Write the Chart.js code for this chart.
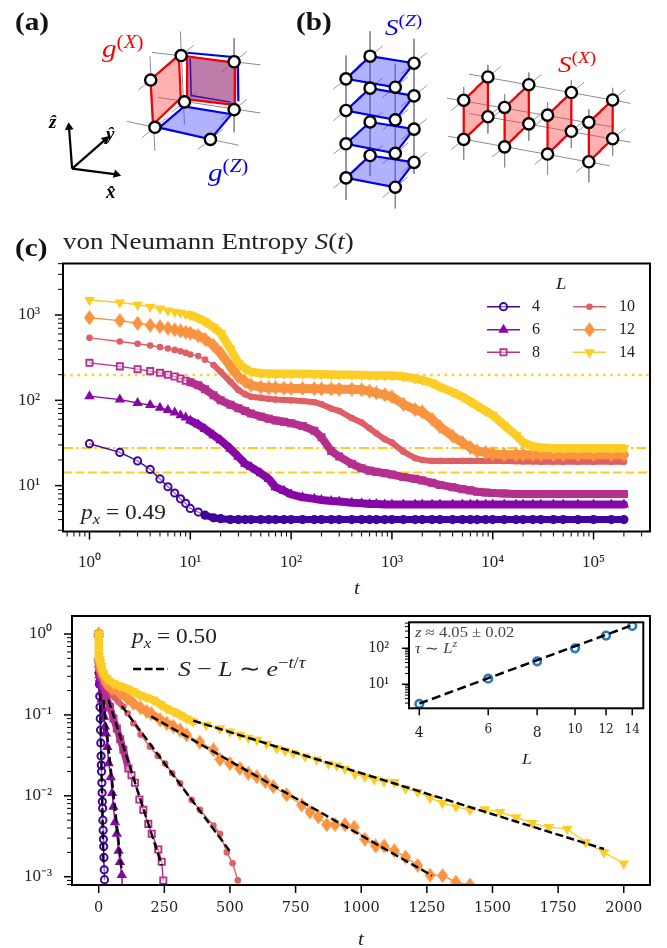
<!DOCTYPE html>
<html>
<head>
<meta charset="utf-8">
<script src="https://cdn.jsdelivr.net/npm/chart.js@4"></script>
<style>
body { margin: 0; background: #fff; width: 667px; height: 948px; position: relative; overflow: hidden; }
canvas { position: absolute; }
.t { position: absolute; font-family: "Liberation Serif", serif; color: #222; white-space: nowrap; line-height: 1; transform-origin: left center; transform: scaleX(1.17); }
.b { font-weight: bold; font-size: 25px; color: #111; }
sup, sub { font-size: 72%; line-height: 0; }
.arrow { font-size: 19px; font-weight: bold; font-style: italic; color: #000; transform: none; }
</style>
</head>
<body>
<canvas id="diagram" width="667" height="235" style="left:0;top:0"></canvas>
<canvas id="entropy" width="667" height="345" style="left:0;top:255px"></canvas>
<canvas id="decay" width="667" height="340" style="left:0;top:606px"></canvas>
<canvas id="inset" width="317" height="160" style="left:350px;top:615px"></canvas>

<span class="t b" style="left:15px;top:9px">(a)</span>
<span class="t b" style="left:296px;top:9px">(b)</span>
<span class="t b" style="left:15px;top:235px">(c)</span>
<span class="t" style="left:102px;top:36px;font-size:25px;color:#f00"><i>g</i><sup>(<i>X</i>)</sup></span>
<span class="t" style="left:208px;top:160px;font-size:25px;color:#00f"><i>g</i><sup>(<i>Z</i>)</sup></span>
<span class="t" style="left:385px;top:16px;font-size:23px;color:#00f"><i>S</i><sup>(<i>Z</i>)</sup></span>
<span class="t" style="left:558px;top:53px;font-size:23px;color:#f00"><i>S</i><sup>(<i>X</i>)</sup></span>
<span class="t arrow" style="left:49px;top:112px">ẑ</span>
<span class="t arrow" style="left:106px;top:124px">ŷ</span>
<span class="t arrow" style="left:106px;top:182px">x̂</span>
<span class="t" style="left:63px;top:230px;font-size:23px">von Neumann Entropy <i>S</i>(<i>t</i>)</span>
<span class="t" style="left:81px;top:502px;font-size:20px"><i>p<sub>x</sub></i> = 0.49</span>
<span class="t" style="left:556px;top:276px;font-size:16px"><i>L</i></span>
<span class="t" style="left:354px;top:579px;font-size:18px"><i>t</i></span>
<span class="t" style="left:132px;top:626px;font-size:20px"><i>p<sub>x</sub></i> = 0.50</span>
<span class="t" style="left:178px;top:658px;font-size:22px"><i>S</i> − <i>L</i> ∼ <i>e</i><sup>−<i>t</i>/<i>τ</i></sup></span>
<span class="t" style="left:415px;top:625px;font-size:14.2px;color:#444"><i>z</i> ≈ 4.05 ± 0.02</span>
<span class="t" style="left:415px;top:641px;font-size:14.2px;color:#444"><i>τ</i> ∼ <i>L<sup>z</sup></i></span>
<span class="t" style="left:522px;top:752px;font-size:15px"><i>L</i></span>
<span class="t" style="left:358px;top:930px;font-size:18px"><i>t</i></span>

<script>
// colours for L = 4 ... 14
const sizes = [4, 6, 8, 10, 12, 14];
const colors = ["#41049d", "#8707a6", "#b52f8c", "#de5f65", "#f89441", "#fccd25"];

// panel (c), S(t) at px = 0.49
const tTop = [1,2,3,4,5,6,7,8,9,10, 12,14,17,20,25,30,35,40,50,60, 70,85,100,130,170,200,250,300,400,500,
  600,700,850,1000,1300,1700,2000,2500,3000,4000, 5000,6000,7000,8500,10000,13000,17000,20000,25000,30000,
  40000,50000,70000,100000,150000,200000];
const top4 = [31,24.5,19.5,15.5,12,9.7,8.2,7,6.2,5.4, 4.9,4.5,4.2,4.1,4,4,4,4,4,4, 4,4,4,4,4,4,4,4,4,4,
  4,4,4,4,4,4,4,4,4,4, 4,4,4,4,4,4,4,4,4,4, 4,4,4,4,4,4];
const top6 = [112,102,93,88,82,77,72,67,63,58, 52,46,39,34,27,21.8,18,16.5,14,12, 9.6,8.7,7.9,7.3,7,6.8,6.6,6.5,6.3,6.2,
  6.1,6.1,6,6,6,6,6,6,6,6, 6,6,6,6,6,6,6,6,6,6, 6,6,6,6,6,6];
const top8 = [275,250,232,220,210,200,190,180,170,163, 150,135,115,100,89,81,75,70,64.6,61, 58,56,54,50,44,37,25.5,22,18,16,
  15,14.5,14,13.5,12.6,12,11.5,10.8,10.2,9.6, 9.1,8.8,8.5,8.3,8.2,8.1,8,8,8,8, 8,8,8,8,8,8];
const top10 = [540,490,460,440,420,405,390,375,360,345, 330,300,260,216,165,132,118,110,107,104, 102,101,100,98,95,90,80,75,62,55,
  47,41,35,32,25,21,20,19.5,19.5,19.5, 19.5,19.5,19.5,19.5,19.5,19.5,19.3,19.2,19.2,19, 19,19,19,19,19,19];
const top12 = [930,860,800,760,730,700,670,650,630,615, 570,520,440,358,250,189,165,151,143,140, 140,139,138,138,137,136,136,135,135,133,
  128,122,116,110,90,78,73,60,49,38, 32,28,25.5,24.5,23.5,23,23,23,23,23, 23,23,23,23,23,23];
const top14 = [1500,1400,1320,1250,1190,1130,1090,1060,1030,1000, 920,840,720,615,400,273,235,216,208,206, 205,205,205,204,203,202,201,200,199,198,
  197,196,195,195,190,180,173,160,144,125, 110,97,86,75,67,51,39,32,29,28, 27.5,27.5,27.5,27.5,27.5,27.5];
const topSeries = [top4, top6, top8, top10, top12, top14];
const topRefX = [0.546, 363000];
const refDotted = [198, 198];
const refDashDot = [27.6, 27.6];
const refDashed = [14.3, 14.3];

// lower panel, S - L at px = 0.50
const t4 = [0,1,2,3,4,5,6,7,8,9,10,11,12,13,14,15,16,17,18,19,20,21,22];
const v4 = [1,.45,.33,.24,.17,.125,.09,.065,.045,.031,.024,.02,.0145,.0109,.0085,.007,.005,.00376,.0029,.00236,.00173,.00122,.00092];
const t6 = [0,1,2,3,4,5,8,11,15,20,24,28,33,38,46,51,56,62,69,76,81,88,91];
const v6 = [1,.42,.36,.31,.28,.25,.19,.155,.12,.095,.072,.059,.04,.0253,.017,.0108,.0073,.0047,.0034,.0021,.00152,.00105,.0006];
const t8 = [0,1,2,5,10,18,30,43,56,69,82,94,113,125,138,155,170,189,202,227,240,246];
const v8 = [1,.44,.38,.33,.29,.235,.16,.126,.09,.068,.05,.037,.0218,.018,.0145,.009,.0067,.0045,.0034,.00217,.00153,.0009];
const t10 = [0,1,3,6,10,18,30,43,60,75,94,110,132,160,195,225,253,280,310,354,386,437,462,488,510,530];
const v10 = [1,.46,.4,.36,.32,.27,.225,.2,.165,.145,.126,.105,.079,.057,.0405,.031,.0251,.019,.0143,.0089,.0067,.0043,.0034,.002,.00147,.0009];
const t12 = [0,1,3,6,10,18,30,50,81,110,132,160,183,200,234,259,284,310,335,385,437,462,500,538,570,602,635,665,716,773,805,837,869,900,938,973,1014,1055,1087,1126,1169,1215,1262,1310,1361,1414];
const v12 = [1,.49,.44,.39,.35,.3,.245,.215,.185,.16,.139,.122,.11,.104,.087,.079,.072,.065,.0565,.046,.037,.0282,.025,.0218,.019,.0172,.015,.013,.0103,.0077,.0063,.0055,.0044,.0044,.0044,.0041,.0029,.0024,.0024,.0021,.00175,.00138,.00105,.00103,.00086,.00079];
const t14 = [0,1,3,6,10,18,30,56,80,107,130,157,180,208,235,259,285,310,335,360,410,462,500,538,570,602,640,678,710,741,786,830,875,907,938,976,1014,1050,1087,1126,1169,1215,1262,1310,1361,1414,1471,1529,1590,1651,1715,1785,1855,1925,2000];
const v14 = [1,.53,.48,.44,.4,.326,.285,.245,.228,.2125,.195,.176,.165,.153,.135,.12,.11,.1,.09,.0828,.075,.068,.062,.0565,.052,.049,.044,.0386,.036,.0335,.0305,.028,.0248,.0237,.0215,.0186,.0172,.016,.015,.0148,.0123,.0112,.0094,.0081,.0073,.0067,.0068,.0063,.0054,.0046,.0041,.0039,.00265,.002,.00145];
const decayT = [t4, t6, t8, t10, t12, t14];
const decayV = [v4, v6, v8, v10, v12, v14];

// exponential fits, one [t, v] pair of ends per L
const fit4 = [[5, .185], [18, .00145]];
const fit6 = [[18, .153], [88, .00115]];
const fit8 = [[37, .153], [240, .00138]];
const fit10 = [[88, .129], [500, .00206]];
const fit12 = [[200, .096], [1270, .00103]];
const fit14 = [[360, .085], [1925, .0022]];
const fitKeySample = [[131, .369], [264, .369]];
const decayXTicks = [0, 250, 500, 750, 1000, 1250, 1500, 1750, 2000];

// inset, tau against L
const tauValues = [2.84, 14.3, 43.4, 100, 225, 416];
const tauFitL = [4, 14];
const tauFit = [2.9, 440];
const insetXTicks = [4, 6, 8, 10, 12, 14];

// panels (a) and (b), coordinates of the little lattice sketches
const aNodes = [[177.4,51],[231.7,57.7],[146.2,77.3],[180.8,100.7],[231.7,109],[150.5,128],[207.4,141]];
const aGray = [[147.5,47.7,258.7,61],[154,96,258.7,112.7],[121.8,121.7,236.4,147.3],[176.6,25,180.8,125],[231.7,32.3,231.7,133.3],[145.4,51.7,150.5,153.3]];
const aRed = [[146,77],[175,50.5],[177,96.5],[148.5,125]];
const aBlue = [[155,128.3],[180.5,105.5],[229,114],[207.4,141]];
const aPurple = [[183.5,52],[233,59],[232.5,104],[184,98]];
const aBackBlue = [[183.8,48],[235.5,53],[236,100]];
const aInnerBlue = [[186.7,54],[187.7,94],[228.3,101]];
const arrowOrigin = [65.7, 172.3];
const arrowTips = [[62.5,128,-6],[100,141,47],[111,178.5,106]];

const stackRows = [[51.7,59.3,76,85],[86,94.3,110,120],[122.3,130,145.7,156],[158.3,165.7,182.3,192.3]];
const stackX = [371, 416, 346.3, 396.8];
const stackGray = [[371,25,371,180],[416,33,416,178],[346.3,51,346.3,206],[396.8,60,396.8,215]];
const sheetCols = [[466.9,491.7],[508.8,533.6],[552.8,577.2],[595.1,619.5]];
const sheetRows = [[99,74,116.7,141],[106.7,82.3,124.3,149],[115,90.7,132.3,156.7],[122.7,98.7,140.3,165]];
const sheetGray = [[472.4,71,637.9,102.3],[449.8,96.7,620,127.7],[472.4,113.3,637.9,144],[451,137.7,616.5,169.3]];

const serifTicks = "Liberation Serif";
const supers = { "-": "⁻", 0: "⁰", 1: "¹", 2: "²", 3: "³", 4: "⁴", 5: "⁵" };

function expLabel(v) {
  return "10" + String(Math.round(Math.log10(v))).split("").map(c => supers[c]).join("");
}

function logTicks(lo, hi) {
  const out = [];
  for (let e = Math.floor(Math.log10(lo)); e <= Math.ceil(Math.log10(hi)); e++) {
    for (let m = 1; m < 10; m++) {
      const v = m * Math.pow(10, e);
      if (v >= lo && v <= hi) out.push({ value: v, major: m === 1 });
    }
  }
  return out;
}

function thinDiamond(color, w, h) {
  const c = document.createElement("canvas");
  c.width = w; c.height = h;
  const g = c.getContext("2d");
  g.fillStyle = color;
  g.beginPath();
  g.moveTo(w / 2, 0); g.lineTo(w, h / 2); g.lineTo(w / 2, h); g.lineTo(0, h / 2);
  g.closePath();
  g.fill();
  return c;
}

const hollow = "rgba(255,255,255,0.45)";
function markerFor(i) {
  const c = colors[i];
  return [
    { pointStyle: "circle", pointRadius: 3.6, pointBorderWidth: 2, legendFill: hollow, pointRotation: 0 },
    { pointStyle: "triangle", pointRadius: 6, pointBorderWidth: 0, legendFill: c, pointRotation: 0 },
    { pointStyle: "rect", pointRadius: 4.4, pointBorderWidth: 1.8, legendFill: hollow, pointRotation: 0 },
    { pointStyle: "circle", pointRadius: 3.3, pointBorderWidth: 0, legendFill: c, pointRotation: 0 },
    { pointStyle: thinDiamond(c, 11, 15), pointRadius: 5, pointBorderWidth: 0, legendFill: c, pointRotation: 0 },
    { pointStyle: "triangle", pointRadius: 6.2, pointBorderWidth: 0, legendFill: c, pointRotation: 180 }
  ][i];
}

// frame and outward tick marks, major ones longer
const framePlugin = {
  id: "frame",
  afterDraw(chart) {
    const a = chart.chartArea, ctx = chart.ctx;
    const lens = chart.options.plugins.frame;
    ctx.save();
    ctx.strokeStyle = "#000";
    Object.values(chart.scales).forEach(s => {
      s.ticks.forEach(t => {
        const p = s.getPixelForValue(t.value);
        const len = t.major ? lens.major : lens.minor;
        ctx.lineWidth = t.major ? 1.5 : 1;
        ctx.beginPath();
        if (s.isHorizontal()) { ctx.moveTo(p, a.bottom); ctx.lineTo(p, a.bottom + len); }
        else { ctx.moveTo(a.left, p); ctx.lineTo(a.left - len, p); }
        ctx.stroke();
      });
    });
    ctx.lineWidth = lens.frame;
    ctx.strokeRect(a.left, a.top, a.right - a.left, a.bottom - a.top);
    ctx.restore();
  }
};

// two column legend of the upper panel, read from the datasets
const legendPlugin = {
  id: "sizeLegend",
  afterDraw(chart) {
    if (!chart.options.plugins.sizeLegend) return;
    const ctx = chart.ctx;
    const rows = [51.7, 74.7, 97.3];
    ctx.save();
    chart.data.datasets.filter(d => d.sizeIndex !== undefined).forEach(d => {
      const i = d.sizeIndex, x0 = i < 3 ? 487 : 573, y = rows[i % 3];
      ctx.strokeStyle = d.borderColor; ctx.lineWidth = 1.4;
      ctx.beginPath(); ctx.moveTo(x0, y); ctx.lineTo(x0 + 33, y); ctx.stroke();
      ctx.fillStyle = d.legendFill; ctx.lineWidth = d.pointBorderWidth;
      Chart.helpers.drawPoint(ctx, { pointStyle: d.pointStyle, rotation: d.pointRotation, radius: d.pointRadius, borderWidth: d.pointBorderWidth }, x0 + 16.5, y);
      ctx.fillStyle = "#222"; ctx.font = "16px " + serifTicks; ctx.textBaseline = "middle"; ctx.textAlign = "left";
      ctx.fillText(d.label, i < 3 ? 532 : 619, y);
    });
    ctx.restore();
  }
};

function xy(xs, ys) { return xs.map((x, i) => ({ x: x, y: ys[i] })); }

// the axis box takes exactly the margin given, so the frame lands where it should
function axis(o) {
  return {
    type: o.type, position: o.position, min: o.min, max: o.max,
    grid: { drawOnChartArea: false, drawTicks: false },
    border: { display: false },
    afterFit(s) {
      if (s.isHorizontal()) s.height = o.margin; else s.width = o.margin;
      s.paddingTop = s.paddingBottom = s.paddingLeft = s.paddingRight = 0;
    },
    afterBuildTicks(s) { s.ticks = o.ticks; },
    ticks: { autoSkip: false, maxRotation: 0, padding: o.padding, color: "#222", font: o.font, callback: o.callback }
  };
}

function bandedLine(i, xs, ys, bandFrom, bandTo, bandWidth, order) {
  const inBand = x => x >= bandFrom && x < bandTo;
  const m = markerFor(i);
  return Object.assign({
    label: String(sizes[i]), sizeIndex: i, data: xy(xs, ys), showLine: true, tension: 0,
    borderColor: colors[i], pointBorderColor: colors[i], borderWidth: 1.4,
    borderJoinStyle: "round", borderCapStyle: "round", order: order,
    pointBackgroundColor: c => (c.parsed && inBand(c.parsed.x)) ? colors[i] : m.legendFill,
    segment: { borderWidth: c => inBand(c.p0.parsed.x) ? bandWidth : 1.4 }
  }, m);
}

function refLine(ys, dash, width) {
  return { label: "", data: xy(topRefX, ys), showLine: true, borderColor: "#fcce25", borderWidth: width, borderDash: dash, pointRadius: 0, order: 20 };
}

Chart.defaults.animation = false;
Chart.defaults.responsive = false;
Chart.defaults.plugins.legend.display = false;
Chart.defaults.plugins.tooltip.enabled = false;

const powerLabel = (v, i, ts) => ts[i].major ? expLabel(v) : "";

// upper panel
const topBands = [[14, 7], [10, 8], [10, 8], [17, 6], [10, 9], [10, 8.5]];
new Chart(document.getElementById("entropy"), {
  type: "scatter",
  data: {
    datasets: topSeries.map((ys, i) => bandedLine(i, tTop, ys, topBands[i][0], 1e9, topBands[i][1], 6 - i))
      .concat([refLine(refDotted, [2.5, 4.7], 2.5), refLine(refDashDot, [10, 3, 2.5, 3], 2), refLine(refDashed, [9, 3.5], 2)])
  },
  options: {
    layout: { padding: { top: 8.5, right: 17 } },
    plugins: { frame: { major: 8, minor: 5, frame: 2 }, sizeLegend: true },
    scales: {
      x: axis({ type: "logarithmic", position: "bottom", min: 0.546, max: 363000, ticks: logTicks(0.546, 363000), padding: 21, margin: 68.5,
        font: { family: serifTicks, size: 17 }, callback: powerLabel }),
      y: axis({ type: "logarithmic", position: "left", min: 2.9, max: 4018, ticks: logTicks(2.9, 4018), padding: 23, margin: 63,
        font: { family: serifTicks, size: 17 }, callback: powerLabel })
    }
  },
  plugins: [framePlugin, legendPlugin]
});

// lower panel
const decayBands = [[1e9, 1e9, 1], [0, 20, 5], [0, 113, 7], [0, 94, 6], [0, 284, 8], [0, 360, 8]];
const fits = [fit4, fit6, fit8, fit10, fit12, fit14, fitKeySample];
new Chart(document.getElementById("decay"), {
  type: "scatter",
  data: {
    datasets: decayT.map((xs, i) => bandedLine(i, xs, decayV[i], decayBands[i][0], decayBands[i][1], decayBands[i][2], 6 - i))
      .concat(fits.map(f => ({
        label: "", showLine: true, data: f.map(p => ({ x: p[0], y: p[1] })), borderColor: "#000",
        borderWidth: 2.4, borderDash: [8, 3.5], pointRadius: 0, order: 0
      })))
  },
  options: {
    layout: { padding: { top: 10, right: 17 } },
    plugins: { frame: { major: 8, minor: 5, frame: 2 } },
    scales: {
      x: axis({ type: "linear", position: "bottom", min: -101.7, max: 2100, ticks: decayXTicks.map(v => ({ value: v, major: true })), padding: 15, margin: 61,
        font: { family: "DejaVu Serif", size: 14.5 }, callback: v => String(v) }),
      y: axis({ type: "logarithmic", position: "left", min: 0.00079, max: 1.669, ticks: logTicks(0.00079, 1.669), padding: 20, margin: 72,
        font: { family: serifTicks, size: 17 }, callback: powerLabel })
    }
  },
  plugins: [framePlugin]
});

// inset
new Chart(document.getElementById("inset"), {
  type: "scatter",
  data: {
    datasets: [
      { label: "tau", data: xy(insetXTicks, tauValues), pointRadius: 3.8, pointBorderWidth: 2.6, pointBackgroundColor: "rgba(255,255,255,0.8)", pointBorderColor: "#2b7bba", order: 2 },
      { label: "fit", data: xy(tauFitL, tauFit), showLine: true, borderColor: "#000", borderWidth: 2.5, borderDash: [9, 4.5], pointRadius: 0, order: 1 }
    ]
  },
  options: {
    layout: { padding: { top: 7.3, right: 23.7 } },
    plugins: { frame: { major: 7, minor: 4, frame: 2 } },
    scales: {
      x: axis({ type: "logarithmic", position: "bottom", min: 3.765, max: 14.94, ticks: insetXTicks.map(v => ({ value: v, major: true })), padding: 14, margin: 44.4 + 22.3,
        font: c => (c.tick && (c.tick.value === 4 || c.tick.value === 8)) ? { family: "DejaVu Serif", size: 14, lineHeight: 1.6 } : { family: "DejaVu Serif", size: 12, lineHeight: 1.2 },
        callback: v => String(v) }),
      y: axis({ type: "logarithmic", position: "left", min: 2.15, max: 527, ticks: logTicks(2.15, 527), padding: 20, margin: 59,
        font: { family: serifTicks, size: 16 }, callback: powerLabel })
    }
  },
  plugins: [framePlugin]
});

// panels (a) and (b), one scatter chart with the page as its data space
const gray = "#8c8c8c";
function seg(x1, y1, x2, y2, color, width, order) {
  return { data: [{ x: x1, y: y1 }, { x: x2, y: y2 }], showLine: true, borderColor: color, borderWidth: width, pointRadius: 0, order: order };
}
function stubs(nodes) {
  return nodes.map(n => seg(n[0] - 13, n[1] + 11, n[0] + 13, n[1] - 11, gray, 0.9, 30));
}
function poly(points, fill, stroke, width, order) {
  const pts = points.concat([points[0]]).map(p => ({ x: p[0], y: p[1] }));
  return { data: pts, showLine: true, fill: "shape", backgroundColor: fill, borderColor: stroke, borderWidth: width, pointRadius: 0, order: order };
}
function path(points, stroke, width, order) {
  return { data: points.map(p => ({ x: p[0], y: p[1] })), showLine: true, borderColor: stroke, borderWidth: width, pointRadius: 0, order: order };
}
function nodes(list) {
  return { data: list.map(p => ({ x: p[0], y: p[1] })), pointRadius: 5.6, pointBorderWidth: 2.4, pointBorderColor: "#000", pointBackgroundColor: "#fff", order: 1 };
}

const sketch = [];
aGray.forEach(g => sketch.push(seg(g[0], g[1], g[2], g[3], gray, 1, 30)));
sketch.push(...stubs(aNodes));
sketch.push(poly(aBlue, "rgba(70,70,255,0.42)", "#0000f0", 2.2, 20));
sketch.push(poly(aRed, "rgba(255,60,60,0.4)", "#f00000", 2.2, 19));
sketch.push(path(aBackBlue, "#0000f0", 2.2, 18));
sketch.push(poly(aPurple, "rgba(160,60,130,0.68)", "#f00000", 2.2, 17));
sketch.push(path(aInnerBlue, "#3a10a0", 1.5, 16));
arrowTips.forEach(t => {
  sketch.push({
    data: [{ x: arrowOrigin[0], y: arrowOrigin[1] }, { x: t[0], y: t[1] }], showLine: true, borderColor: "#000", borderWidth: 2.2,
    pointStyle: "triangle", pointRadius: [0, 5], pointRotation: [0, t[2]], pointBackgroundColor: "#000", pointBorderWidth: 0, order: 5
  });
});
sketch.push(nodes(aNodes));

stackGray.forEach(g => sketch.push(seg(g[0], g[1], g[2], g[3], gray, 1, 30)));
const stackNodes = [];
stackRows.forEach(r => {
  stackX.forEach((x, i) => stackNodes.push([x, r[i]]));
  sketch.push(poly([[stackX[0], r[0]], [stackX[1], r[1]], [stackX[3], r[3]], [stackX[2], r[2]]], "rgba(70,70,255,0.42)", "#0000f0", 2.2, 20));
});
sketch.push(...stubs(stackNodes));
sketch.push(nodes(stackNodes));

sheetGray.forEach(g => sketch.push(seg(g[0], g[1], g[2], g[3], gray, 1, 30)));
const sheetNodes = [];
sheetRows.forEach((r, i) => {
  const c = sheetCols[i];
  const corners = [[c[0], r[0]], [c[1], r[1]], [c[1], r[2]], [c[0], r[3]]];
  sheetNodes.push(...corners);
  sketch.push(seg(c[0], r[0] - 14, c[0], r[3] + 22, gray, 1, 30));
  sketch.push(seg(c[1], r[1] - 13, c[1], r[2] + 18, gray, 1, 30));
  sketch.push(poly(corners, "rgba(255,60,60,0.4)", "#f00000", 2.2, 20));
});
sketch.push(...stubs(sheetNodes));
sketch.push(nodes(sheetNodes));

new Chart(document.getElementById("diagram"), {
  type: "scatter",
  data: { datasets: sketch },
  options: {
    layout: { padding: 0 },
    scales: {
      x: { display: false, min: 0, max: 667 },
      y: { display: false, min: 0, max: 235, reverse: true }
    }
  }
});
</script>
</body>
</html>
